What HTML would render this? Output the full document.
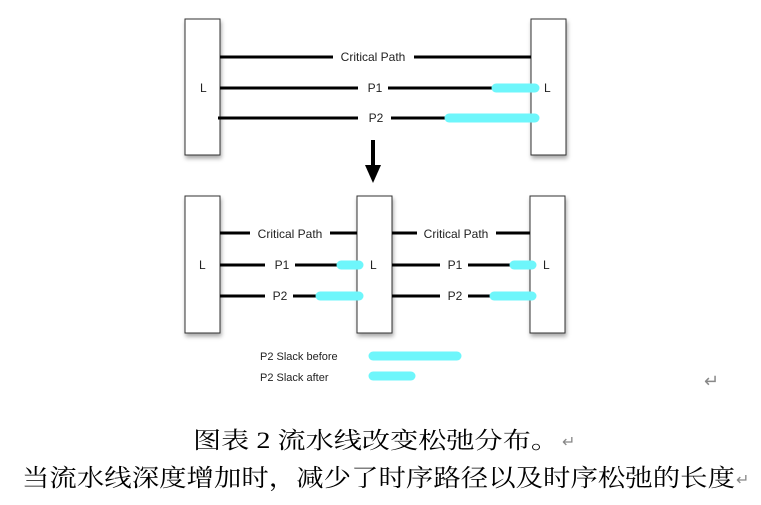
<!DOCTYPE html>
<html><head><meta charset="utf-8"><style>
html,body{margin:0;padding:0;background:#fff;}
svg{display:block;}
</style></head><body>
<svg width="761" height="505" viewBox="0 0 761 505" xmlns="http://www.w3.org/2000/svg">
<defs>
<filter id="sh" x="-30%" y="-10%" width="160%" height="130%"><feDropShadow dx="1" dy="3" stdDeviation="2" flood-color="#000" flood-opacity="0.35"/></filter>
</defs>
<g font-family="Liberation Sans, sans-serif" font-size="12" fill="#222">
<!-- top -->
<rect x="185" y="19" width="35" height="136" fill="#fff" stroke="#333" stroke-width="1" filter="url(#sh)"/>
<rect x="531" y="19" width="35" height="136" fill="#fff" stroke="#333" stroke-width="1" filter="url(#sh)"/>
<g stroke="#000" stroke-width="3">
<line x1="220" y1="57" x2="333" y2="57"/><line x1="414" y1="57" x2="531" y2="57"/>
<line x1="220" y1="88" x2="358" y2="88"/><line x1="388" y1="88" x2="495" y2="88"/>
<line x1="218" y1="118" x2="358" y2="118"/><line x1="391" y1="118" x2="448" y2="118"/>
</g>
<g stroke="#6ef6fb" stroke-width="9" stroke-linecap="round">
<line x1="496" y1="88" x2="535" y2="88"/><line x1="449" y1="118" x2="535" y2="118"/>
</g>
<text x="373" y="61" text-anchor="middle">Critical Path</text>
<text x="375" y="92" text-anchor="middle">P1</text>
<text x="376" y="122" text-anchor="middle">P2</text>
<text x="200" y="92">L</text><text x="544" y="92">L</text>
<line x1="373" y1="140" x2="373" y2="168" stroke="#000" stroke-width="4"/>
<polygon points="365,165 381,165 373,183" fill="#000"/>
<!-- bottom -->
<rect x="185" y="196" width="35" height="137" fill="#fff" stroke="#333" filter="url(#sh)"/>
<rect x="357" y="196" width="35" height="137" fill="#fff" stroke="#333" filter="url(#sh)"/>
<rect x="530" y="196" width="35" height="137" fill="#fff" stroke="#333" filter="url(#sh)"/>
<g stroke="#000" stroke-width="3">
<line x1="220" y1="233" x2="250" y2="233"/><line x1="330" y1="233" x2="357" y2="233"/>
<line x1="220" y1="265" x2="265" y2="265"/><line x1="295" y1="265" x2="340" y2="265"/>
<line x1="220" y1="296" x2="265" y2="296"/><line x1="293" y1="296" x2="320" y2="296"/>
<line x1="392" y1="233" x2="417" y2="233"/><line x1="496" y1="233" x2="530" y2="233"/>
<line x1="392" y1="265" x2="440" y2="265"/><line x1="468" y1="265" x2="512" y2="265"/>
<line x1="392" y1="296" x2="440" y2="296"/><line x1="468" y1="296" x2="492" y2="296"/>
</g>
<g stroke="#6ef6fb" stroke-width="9" stroke-linecap="round">
<line x1="341" y1="265" x2="359" y2="265"/><line x1="320" y1="296" x2="359" y2="296"/>
<line x1="514" y1="265" x2="532" y2="265"/><line x1="494" y1="296" x2="532" y2="296"/>
<line x1="373" y1="356" x2="457" y2="356"/><line x1="373" y1="376" x2="411" y2="376"/>
</g>
<text x="290" y="238" text-anchor="middle">Critical Path</text>
<text x="282" y="269" text-anchor="middle">P1</text>
<text x="280" y="300" text-anchor="middle">P2</text>
<text x="456" y="238" text-anchor="middle">Critical Path</text>
<text x="455" y="269" text-anchor="middle">P1</text>
<text x="455" y="300" text-anchor="middle">P2</text>
<text x="199" y="269">L</text><text x="370" y="269">L</text><text x="543" y="269">L</text>
<text x="260" y="360" font-size="11">P2 Slack before</text>
<text x="260" y="381" font-size="11">P2 Slack after</text>
</g>
<g font-family="Liberation Serif, 'Noto Serif CJK SC', 'Noto Sans CJK SC', serif" fill="#000">
<text x="704" y="387" font-size="18" fill="#888">↵</text>
<text x="193" y="448" font-size="23" textLength="366" lengthAdjust="spacingAndGlyphs">图表 2 流水线改变松弛分布。</text>
<text x="562" y="447" font-size="16" fill="#888">↵</text>
<text x="22" y="486" font-size="24" textLength="713" lengthAdjust="spacingAndGlyphs">当流水线深度增加时，减少了时序路径以及时序松弛的长度</text>
<text x="736" y="485" font-size="16" fill="#888">↵</text>
</g>
</svg>
</body></html>
